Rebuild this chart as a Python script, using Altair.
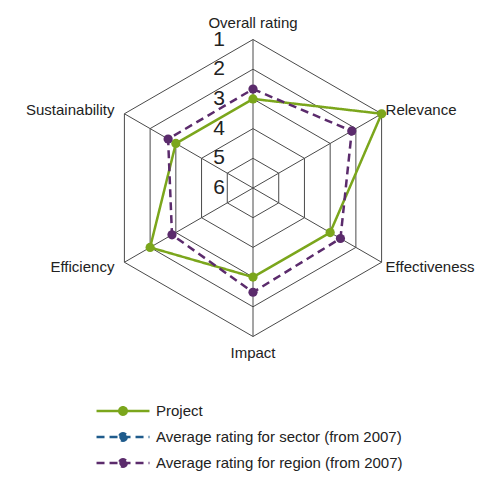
import math
import altair as alt
import pandas as pd

# ---------------- data ----------------
AXES = ["Overall rating", "Relevance", "Effectiveness", "Impact", "Efficiency", "Sustainability"]
PROJECT = [3, 1, 3, 3, 2, 3]
SECTOR = []  # no values shown in the chart
REGION = [2.67, 2.16, 2.6, 2.49, 2.85, 2.7]
SERIES = ["Project", "Average rating for sector (from 2007)", "Average rating for region (from 2007)"]
COLORS = ["#7BA61C", "#1F5B8C", "#5B2B6C"]
DASHES = [[1, 0], [8, 5], [8, 5]]
GRID_LEVELS = [1, 2, 3, 4, 5]
TICK_LABELS = ["1", "2", "3", "4", "5", "6"]

# ---------------- layout constants ----------------
W, H = 468, 466
STEP = 29.7            # pixels per rating step
CX, CY = 245, 180      # centre inside the plot area
XDOM = [-CX / STEP, (W - CX) / STEP]
YDOM = [-(H - CY) / STEP, CY / STEP]
FONT = "Liberation Sans"
TXT = "#222222"
GRID = "#4a4a4a"

rows = []
for name, vals in zip(SERIES, [PROJECT, SECTOR, REGION]):
    if not vals:
        continue
    for k in range(len(AXES) + 1):
        i = k % len(AXES)
        rows.append({"series": name, "idx": i, "ord": k, "value": vals[i]})
series_df = pd.DataFrame(rows)

grid_df = pd.DataFrame([{"level": L, "idx": k % 6, "ord": k} for L in GRID_LEVELS for k in range(7)])
spoke_df = pd.DataFrame({"idx": list(range(len(AXES))), "value": [1] * len(AXES)})
tick_df = pd.DataFrame({"label": TICK_LABELS, "value": [int(t) for t in TICK_LABELS]})
axis_df = pd.DataFrame({"name": AXES, "idx": list(range(len(AXES)))})

ANG = "PI/2 - datum.idx*PI/3"
xs = alt.Scale(domain=XDOM, nice=False, zero=False)
ys = alt.Scale(domain=YDOM, nice=False, zero=False)


def polar(chart, val="datum.value"):
    return chart.transform_calculate(ang=ANG).transform_calculate(
        r=f"6 - {val}"
    ).transform_calculate(
        x="datum.r*cos(datum.ang)", y="datum.r*sin(datum.ang)"
    )


X = alt.X("x:Q", scale=xs, axis=None)
Y = alt.Y("y:Q", scale=ys, axis=None)

# grid hexagons
grid = polar(alt.Chart(grid_df), "datum.level").mark_line(
    color=GRID, strokeWidth=1
).encode(x=X, y=Y, detail="level:N", order="ord:Q")

# spokes
spokes = polar(alt.Chart(spoke_df)).mark_rule(color=GRID, strokeWidth=1).encode(
    x=X, y=Y, x2=alt.datum(0), y2=alt.datum(0)
)

# level numbers
ticks = alt.Chart(tick_df).transform_calculate(y="6 - datum.value", x="0").mark_text(
    font=FONT, fontSize=21, color=TXT, dx=-34, align="center", baseline="middle"
).encode(x=X, y=Y, text="label:N")

# axis names
lab_base = alt.Chart(axis_df).transform_calculate(ang=ANG).transform_calculate(
    side="abs(cos(datum.ang)) > 0.1 ? (cos(datum.ang) > 0 ? 'R' : 'L') : 'C'"
).transform_calculate(
    lr=f"5 + (datum.side == 'C' ? 16.5 / {STEP} : 0)"
).transform_calculate(
    x="datum.lr*cos(datum.ang)",
    y=f"datum.lr*sin(datum.ang) + (datum.side == 'C' ? 0 : (sin(datum.ang) > 0 ? 3.5 : -4.5) / {STEP})",
)
labels = []
for side, al, dx in [("C", "center", 0), ("R", "left", 4), ("L", "right", -10)]:
    labels.append(
        lab_base.transform_filter(f"datum.side == '{side}'").mark_text(
            font=FONT, fontSize=15, color=TXT, align=al, baseline="middle", dx=dx
        ).encode(x=X, y=Y, text="name:N")
    )

# legend symbol: line with a dot in the middle (unit = 7.5 px at symbolSize 225)
HALF = 3.53
pts = []
rad = 0.5
for k in range(20):
    a = 2 * math.pi * k / 20
    pts.append(f"{rad*math.cos(a):.3f},{rad*math.sin(a):.3f}")
SYM = f"M-{HALF},0L{HALF},0M" + "L".join(pts) + "Z"

legend = alt.Legend(
    title=None, orient="none", legendX=106, legendY=394, direction="vertical",
    symbolType=SYM, symbolSize=225, symbolStrokeWidth=2.5,
    labelFont=FONT, labelFontSize=15, labelColor=TXT, labelLimit=400,
    rowPadding=8, labelOffset=24, padding=0,
)
stroke_enc = alt.Stroke("series:N", scale=alt.Scale(domain=SERIES, range=COLORS), legend=legend)
dash_enc = alt.StrokeDash("series:N", scale=alt.Scale(domain=SERIES, range=DASHES), legend=legend)
fill_enc = alt.Fill("series:N", scale=alt.Scale(domain=SERIES, range=COLORS), legend=legend)

lines = polar(alt.Chart(series_df)).mark_line(strokeWidth=2.5).encode(
    x=X, y=Y, stroke=stroke_enc, strokeDash=dash_enc, order="ord:Q"
)
points = polar(alt.Chart(series_df)).transform_filter("datum.ord < 6").mark_point(
    filled=True, size=85, opacity=1
).encode(x=X, y=Y, fill=fill_enc)

chart = alt.layer(grid, spokes, ticks, *labels, lines, points).properties(
    width=W, height=H, autosize="none", padding=0
).configure_view(stroke=None)

chart.save("out.html", embed_options={"renderer": "svg", "actions": False})
